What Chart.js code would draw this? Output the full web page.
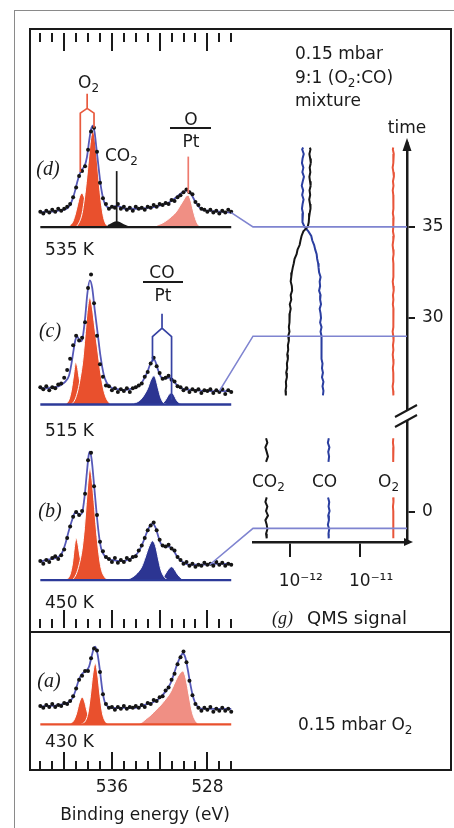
<!DOCTYPE html>
<html>
<head>
<meta charset="utf-8">
<script src="https://cdn.jsdelivr.net/npm/chart.js@4.4.0/dist/chart.umd.min.js"></script>
<style>
  html, body { margin: 0; padding: 0; background: #fff; }
  #fig { position: relative; width: 454px; height: 828px; overflow: hidden; }
  canvas { position: absolute; }
  .box { position: absolute; box-sizing: border-box; border: 2.5px solid #1a1a1a; }
  .outer { position: absolute; left: 14px; top: 10px; width: 470px; height: 840px; border: 1.5px solid #8a8a8a; }
  .t { position: absolute; line-height: 1; white-space: nowrap; font-family: "DejaVu Sans", sans-serif;
       font-size: 17px; color: #1a1a1a; transform: translateY(-50%); }
  .c { transform: translate(-50%, -50%); }
  .i { font-family: "Liberation Serif", serif; font-style: italic; font-size: 20px; }
  sub { font-size: 12px; vertical-align: -4px; line-height: 0; }
  .bar { position: absolute; height: 1.6px; background: #1a1a1a; }
</style>
</head>
<body>
<div id="fig">
  <div class="outer"></div>

  <canvas id="cD" width="210" height="233" style="left:30px;top:29px"></canvas>
  <canvas id="cC" width="210" height="178" style="left:30px;top:262px"></canvas>
  <canvas id="cB" width="210" height="192" style="left:30px;top:440px"></canvas>
  <canvas id="cA" width="210" height="196" style="left:30px;top:632px"></canvas>
  <canvas id="cQ" width="255" height="603" style="left:196px;top:29px"></canvas>

  <div class="box" style="left:28.75px;top:27.75px;width:423.5px;height:605.5px"></div>
  <div class="box" style="left:28.75px;top:630.75px;width:423.5px;height:140.5px"></div>

  <!-- panel labels -->
  <div class="t c i" style="left:48px;top:168px">(d)</div>
  <div class="t c i" style="left:50px;top:330px">(c)</div>
  <div class="t c i" style="left:50px;top:510px">(b)</div>
  <div class="t c i" style="left:49px;top:680px">(a)</div>
  <div class="t" style="left:45px;top:249px">535 K</div>
  <div class="t" style="left:45px;top:430px">515 K</div>
  <div class="t" style="left:45px;top:602px">450 K</div>
  <div class="t" style="left:45px;top:741px">430 K</div>

  <!-- peak labels -->
  <div class="t" style="left:78px;top:82px">O<sub>2</sub></div>
  <div class="t" style="left:105px;top:155px">CO<sub>2</sub></div>
  <div class="t c" style="left:191px;top:119px">O</div>
  <div class="bar" style="left:170px;top:127px;width:41px"></div>
  <div class="t c" style="left:191px;top:141px">Pt</div>
  <div class="t c" style="left:162px;top:272px">CO</div>
  <div class="bar" style="left:143px;top:281px;width:40px"></div>
  <div class="t c" style="left:163px;top:295px">Pt</div>

  <!-- right side texts -->
  <div class="t" style="left:295px;top:53px">0.15 mbar</div>
  <div class="t" style="left:295px;top:77px">9:1 (O<sub>2</sub>:CO)</div>
  <div class="t" style="left:295px;top:100px">mixture</div>
  <div class="t c" style="left:407px;top:127px">time</div>
  <div class="t" style="left:252px;top:481px">CO<sub>2</sub></div>
  <div class="t" style="left:312px;top:481px">CO</div>
  <div class="t" style="left:378px;top:481px">O<sub>2</sub></div>
  <div class="t i" style="left:272px;top:618px;font-size:18px">(g)</div>
  <div class="t" style="left:307px;top:618px;font-size:18px">QMS signal</div>
  <div class="t" style="left:298px;top:724px">0.15 mbar O<sub>2</sub></div>
  <div class="t c" style="left:145px;top:814px">Binding energy (eV)</div>
</div>

<script>
// ---- XPS: binding energy grid for the measured points (eV) ----
const energies = [542, 541.75, 541.5, 541.25, 541, 540.75, 540.5, 540.25, 540, 539.75, 539.5, 539.25,
  539, 538.75, 538.5, 538.25, 538, 537.75, 537.5, 537.25, 537, 536.75, 536.5, 536.25, 536, 535.75,
  535.5, 535.25, 535, 534.75, 534.5, 534.25, 534, 533.75, 533.5, 533.25, 533, 532.75, 532.5, 532.25,
  532, 531.75, 531.5, 531.25, 531, 530.75, 530.5, 530.25, 530, 529.75, 529.5, 529.25, 529, 528.75,
  528.5, 528.25, 528, 527.75, 527.5, 527.25, 527, 526.75, 526.5, 526.25, 526];
const tickEnergies = [542, 541, 540, 539, 538, 537, 536, 535, 534, 533, 532, 531, 530, 529, 528, 527, 526];
const labelEnergies = [536, 528];

// measured intensities (arb. units), one per energy
const dotsD = [16,14,17,15,18,16,19,17,19,21, 24,31,41,53,58,63,80,99,103,78, 46,30,24,19,21,20,24,19,21,18,
  20,17,21,19,20,18,21,20,23,21, 24,23,25,24,28,27,31,33,36,39, 36,34,26,23,19,18,16,18,15,17, 14,17,15,18,16];
const dotsC = [18,16,19,15,18,17,21,22,28,36, 48,62,72,67,70,86,122,136,106,72, 42,29,20,19,15,17,13,16,14,17,
  13,17,18,20,22,29,34,43,49,40, 33,27,28,30,26,24,19,18,15,17, 13,16,14,16,12,15,14,16,12,15, 13,16,11,15,13];
const dotsB = [20,17,21,19,23,25,22,26,32,44, 56,66,71,68,72,90,125,133,98,68, 40,30,24,22,19,23,18,21,19,23,
  21,24,25,31,36,44,52,57,60,52, 42,36,35,37,33,31,24,21,17,19, 15,17,14,16,15,18,16,17,15,19, 16,18,15,17,16];
const dotsA = [19,17,20,18,21,18,20,19,22,21, 24,29,37,46,50,55,55,68,78,76, 54,31,21,17,18,15,18,16,19,16,
  18,17,19,17,20,18,22,21,25,24, 28,29,35,38,46,52,62,69,75,64, 45,30,21,17,14,17,15,18,13,16, 14,17,14,16,13];

// fit envelopes [eV, intensity]
const envD = [[542,15],[541.5,16],[541,16],[540.5,17],[540,18],[539.7,20],[539.5,23],[539.3,29],[539.1,37],[538.9,47],
  [538.7,55],[538.5,60],[538.3,63],[538.1,72],[537.9,90],[537.75,101],[537.6,105],[537.45,98],[537.3,82],[537.1,60],
  [536.9,40],[536.7,28],[536.5,22],[536.2,20],[535.9,21],[535.6,22],[535.3,21],[534.9,19],[534.4,19],[533.8,19],
  [533,20],[532.4,21],[531.8,23],[531.3,25],[530.9,28],[530.5,32],[530.2,35],[529.9,37],[529.7,38],[529.5,37],
  [529.3,33],[529,26],[528.7,21],[528.4,18],[528,17],[527,16],[526,15]];
const envC = [[542,17],[541.5,17],[541,18],[540.5,19],[540.2,21],[539.9,24],[539.6,30],[539.4,42],[539.2,58],[539.05,68],
  [538.9,71],[538.75,68],[538.6,66],[538.45,70],[538.25,90],[538.05,117],[537.85,130],[537.65,122],[537.45,100],[537.2,75],
  [536.95,50],[536.7,32],[536.45,23],[536.1,18],[535.5,16],[535,15],[534.5,16],[534,18],[533.6,21],[533.3,27],
  [533,35],[532.8,42],[532.6,46],[532.45,47],[532.3,43],[532.1,35],[531.9,29],[531.6,27],[531.3,28],[531.1,28],
  [530.9,26],[530.6,21],[530.3,18],[530,16],[529,15],[528,14],[527,14],[526,14]];
const envB = [[542,19],[541.5,21],[541,22],[540.5,24],[540.2,28],[539.9,38],[539.6,52],[539.3,64],[539.1,70],[538.9,70],
  [538.7,68],[538.5,70],[538.3,86],[538.1,112],[537.95,130],[537.85,134],[537.7,126],[537.5,100],[537.3,72],[537.1,48],
  [536.9,33],[536.6,25],[536.3,22],[536,21],[535.5,20],[535,20],[534.5,22],[534,26],[533.7,31],[533.4,39],
  [533.1,49],[532.85,56],[532.6,59],[532.35,55],[532.1,45],[531.9,38],[531.6,35],[531.3,35],[531.05,34],[530.8,30],
  [530.5,24],[530.2,20],[529.8,17],[529.3,16],[528.5,16],[527.5,17],[526,17]];
const envA = [[542,18],[541.5,19],[541,19],[540.5,20],[540,21],[539.6,23],[539.3,27],[539.1,33],[538.9,41],[538.7,48],
  [538.5,52],[538.3,54],[538.1,56],[537.9,60],[537.7,70],[537.5,79],[537.4,80],[537.2,72],[537,55],[536.8,35],
  [536.6,23],[536.3,18],[536,17],[535,17],[534,17],[533.5,19],[533,21],[532.5,23],[532,27],[531.5,34],
  [531.1,42],[530.8,52],[530.5,63],[530.2,71],[530.05,73],[529.85,69],[529.65,57],[529.45,43],[529.25,31],[529.05,23],
  [528.8,18],[528.4,16],[527.5,16],[526,16]];

// fitted components [eV, intensity]
const dO2a = [[539.7,0],[539.3,5],[539.1,12],[538.9,22],[538.7,32],[538.5,35],[538.3,30],[538.1,20],[537.9,10],[537.7,4],[537.3,0]];
const dO2b = [[539,0],[538.7,6],[538.5,14],[538.3,30],[538.1,52],[537.9,78],[537.75,94],[537.6,100],[537.45,94],[537.3,78],[537.1,50],[536.9,26],[536.7,10],[536.5,3],[536.2,0]];
const dCO2 = [[537.2,0],[536.6,1],[536.2,3],[535.9,5],[535.6,6],[535.3,5],[535,3],[534.6,1],[534,0]];
const dOPt = [[532.6,0],[532.2,2],[531.8,4],[531.4,7],[531,11],[530.6,16],[530.3,22],[530,28],[529.8,32],[529.6,33],[529.4,28],[529.2,18],[529,9],[528.8,3],[528.5,0]];

const cO2a = [[539.9,0],[539.6,5],[539.4,15],[539.2,32],[539.05,44],[538.9,40],[538.75,28],[538.6,17],[538.4,7],[538.2,2],[537.9,0]];
const cO2b = [[539.4,0],[539.1,5],[538.85,15],[538.65,28],[538.45,45],[538.25,72],[538.05,100],[537.85,112],[537.65,102],[537.45,82],[537.2,58],[536.95,34],[536.7,16],[536.45,6],[536.1,0]];
const cCOa = [[534.5,0],[534,2],[533.6,5],[533.3,10],[533,17],[532.8,24],[532.6,29],[532.45,30],[532.3,26],[532.1,16],[531.9,7],[531.7,2],[531.4,0]];
const cCOb = [[531.9,0],[531.6,3],[531.4,7],[531.2,11],[531,12],[530.8,10],[530.6,5],[530.4,2],[530.1,0]];

const bO2a = [[539.8,0],[539.5,6],[539.3,18],[539.15,34],[539,44],[538.85,38],[538.7,26],[538.5,14],[538.3,5],[538,0]];
const bO2b = [[539.3,0],[539,6],[538.75,16],[538.5,32],[538.3,55],[538.1,88],[537.95,110],[537.85,117],[537.7,108],[537.5,82],[537.3,52],[537.1,28],[536.9,12],[536.6,3],[536.3,0]];
const bCOa = [[534.8,0],[534.3,3],[533.9,7],[533.5,14],[533.2,24],[532.9,35],[532.6,41],[532.35,36],[532.1,22],[531.9,11],[531.6,3],[531.3,0]];
const bCOb = [[532,0],[531.7,3],[531.4,9],[531.15,13],[531,14],[530.8,12],[530.5,6],[530.2,2],[529.8,0]];

const aO2a = [[539.6,0],[539.2,4],[538.95,12],[538.75,22],[538.5,28],[538.3,24],[538.1,14],[537.9,6],[537.6,1],[537.3,0]];
const aO2b = [[538.6,0],[538.2,4],[538,12],[537.8,30],[537.6,52],[537.4,63],[537.2,52],[537,30],[536.8,12],[536.6,4],[536.3,0]];
const aOPt = [[534,0],[533.5,2],[533.1,6],[532.7,10],[532.3,15],[531.9,20],[531.5,26],[531.1,33],[530.8,41],[530.5,49],[530.2,54],[530.05,55],[529.85,50],[529.65,38],[529.45,24],[529.25,12],[529.05,5],[528.8,1],[528.5,0]];

const baseline = [[542,0],[526,0]];

// ---- QMS traces: time (min) and signal (units of 1e-12 A) ----
const qmsUnit = 1e-12;
const qmsTicks = [1e-12, 1e-11];
const qmsTickText = ['10\u207B\u00B9\u00B2', '10\u207B\u00B9\u00B9'];
const timeTicksUp = [30, 35];
const timeTicksLow = [0];

const tUpper = [39.35, 39.25, 39, 38.75, 38.5, 38.25, 38, 37.75, 37.5, 37.25, 37, 36.75, 36.5, 36.25, 36, 35.75,
  35.5, 35.25, 35, 34.75, 34.5, 34.25, 34, 33.75, 33.5, 33.25, 33, 32.75, 32.5, 32.25, 32, 31.75, 31.5, 31.25,
  31, 30.75, 30.5, 30.25, 30, 29.75, 29.5, 29.25, 29, 28.75, 28.5, 28.25, 28, 27.75, 27.5, 27.25, 27, 26.75,
  26.5, 26.25, 26, 25.75];
const co2Upper = [1.93,1.97,1.90,1.95,1.99,1.92,1.96,1.90,1.94,1.98,1.91,1.95,1.89,1.94,1.97,1.92,1.88,1.86,1.80,
  1.56,1.47,1.42,1.38,1.29,1.25,1.17,1.14,1.10,1.07,1.05,1.03,1.07,1.08,1.03,1.05,1.00,1.03,1.00,0.98,
  1.00,0.97,0.99,0.95,0.97,0.94,0.95,0.92,0.94,0.91,0.92,0.89,0.91,0.88,0.89,0.87,0.88];
const coUpper = [1.55,1.50,1.58,1.52,1.49,1.56,1.51,1.59,1.53,1.48,1.55,1.50,1.57,1.52,1.49,1.54,1.50,1.53,1.62,
  1.84,2.02,2.09,2.22,2.30,2.41,2.45,2.53,2.57,2.61,2.74,2.66,2.70,2.61,2.74,2.70,2.78,2.66,2.74,2.78,
  2.70,2.83,2.74,2.83,2.78,2.87,2.78,2.87,2.83,2.92,2.87,2.96,2.87,3.01,2.92,3.01,2.96];
const o2Upper = [29.6,29.2,30.1,29.4,29.9,29.0,29.7,30.2,29.3,29.8, 29.1,29.6,30.0,29.4,29.8,29.2,29.9,29.5,29.7,29.3,
  30.1,29.6,29.0,29.5,29.9,29.3,29.7,30.0,29.4,29.8, 29.1,29.6,30.0,29.3,29.7,29.2,29.8,29.5,30.1,29.4,
  29.7,29.0,29.6,29.9,29.3,29.7,29.1,29.5,29.8,29.2, 29.6,29.9,29.4,29.0,29.5,29.7];

const tLowA = [4.05, 3.8, 3.55, 3.3, 3.05, 2.75];
const tLowB = [0.8, 0.55, 0.3, 0.05, -0.2, -0.45, -0.7, -0.95, -1.2, -1.45];
const co2LowA = [0.46,0.48,0.45,0.47,0.49,0.46];
const co2LowB = [0.47,0.45,0.48,0.46,0.49,0.45,0.47,0.48,0.46,0.47];
const coLowA = [3.59,3.48,3.66,3.52,3.62,3.55];
const coLowB = [3.50,3.64,3.56,3.68,3.52,3.60,3.48,3.63,3.55,3.58];
const o2LowA = [29.6,29.3,29.8,29.5,29.7,29.4];
const o2LowB = [29.5,29.8,29.3,29.6,29.9,29.4,29.7,29.5,29.8,29.6];

// spectra (d),(c),(b) are linked to these times; start point on each spectrum [eV, intensity]
const linkTimes = [35, 29, -0.9];
const linkStarts = [[526, 15], [527, 14], [527.8, 16]];
const linkAxes = ['tUp', 'tUp', 'tLow'];

// ---- styles ----
const ink = '#1a1a1a';
const o2Red = '#e9502d';
const oPtPink = '#f08f84';
const coBlue = '#2c3592';
const envColor = '#5659b8';
const linkColor = '#7f84d0';
const eMin = 525.6, eMax = 542.53;
const qMin = 3.37e-13, qMax = 4.64e-11;

Chart.defaults.font.family = '"DejaVu Sans", sans-serif';
Chart.defaults.color = ink;

const pts = a => a.map(([x, y]) => ({x, y}));

// tick marks drawn inward from the frame edge
const frameTicks = {
  id: 'frameTicks',
  afterDraw(chart, args, opts) {
    const {ctx, chartArea: a, scales: {x}} = chart;
    ctx.save();
    ctx.strokeStyle = ink; ctx.lineWidth = 2;
    (opts.edges || []).forEach(edge => {
      const y0 = edge === 'top' ? a.top : a.bottom;
      const dir = edge === 'top' ? 1 : -1;
      x.ticks.forEach(t => {
        if (!Number.isInteger(t.value)) return;
        const len = t.value % 4 === 0 ? 18 : 9;
        const px = Math.round(x.getPixelForValue(t.value));
        ctx.beginPath(); ctx.moveTo(px, y0); ctx.lineTo(px, y0 + dir * len); ctx.stroke();
      });
    });
    ctx.restore();
  }
};

// label pointers for peaks
const peakMarks = {
  id: 'peakMarks',
  afterDatasetsDraw(chart, args, opts) {
    const {ctx, scales: {x, y}} = chart;
    ctx.save();
    ctx.lineWidth = 1.7;
    (opts.sticks || []).forEach(s => {
      const px = x.getPixelForValue(s.e);
      ctx.strokeStyle = s.color;
      ctx.beginPath(); ctx.moveTo(px, y.getPixelForValue(s.from)); ctx.lineTo(px, y.getPixelForValue(s.to)); ctx.stroke();
    });
    (opts.forks || []).forEach(f => {
      const xl = x.getPixelForValue(f.e[0]), xr = x.getPixelForValue(f.e[1]), xm = (xl + xr) / 2;
      const yj = y.getPixelForValue(f.join), ys = y.getPixelForValue(f.split);
      ctx.strokeStyle = f.color;
      ctx.beginPath();
      ctx.moveTo(xm, y.getPixelForValue(f.top)); ctx.lineTo(xm, yj);
      ctx.lineTo(xl, ys); ctx.lineTo(xl, y.getPixelForValue(f.ends[0]));
      ctx.moveTo(xm, yj); ctx.lineTo(xr, ys); ctx.lineTo(xr, y.getPixelForValue(f.ends[1]));
      ctx.stroke();
    });
    ctx.restore();
  }
};

function xpsChart(id, cfg) {
  const datasets = [
    { data: cfg.dots.map((v, i) => ({x: energies[i], y: v})), showLine: false, pointRadius: 2,
      pointBackgroundColor: '#141414', pointBorderWidth: 0, order: 1 },
    { data: pts(cfg.env), borderColor: envColor, borderWidth: 1.8, pointRadius: 0, cubicInterpolationMode: 'monotone', order: 2 },
    { data: pts(baseline), borderColor: cfg.base, borderWidth: 2.4, pointRadius: 0, order: 3 }
  ];
  cfg.comps.forEach((c, k) => datasets.push({
    data: pts(c.pts), fill: 'origin', backgroundColor: c.color, borderColor: '#fff',
    borderWidth: c.plain ? 0 : 1, pointRadius: 0, cubicInterpolationMode: 'monotone', order: 4 + k
  }));
  const x = {
    type: 'linear', reverse: true, min: eMin, max: eMax, display: !!cfg.labels,
    ticks: {autoSkip: false},
    afterBuildTicks: s => { s.ticks = tickEnergies.map(v => ({value: v})); }
  };
  if (cfg.labels) {
    Object.assign(x, {
      grid: {display: false, drawTicks: false}, border: {display: false},
      ticks: {autoSkip: false, maxRotation: 0, padding: 7, color: ink, font: {size: 17},
        callback: v => labelEnergies.includes(v) ? String(v) : ''},
      afterFit: s => { s.height = 58; }
    });
  }
  return new Chart(document.getElementById(id), {
    type: 'line',
    data: {datasets},
    options: {
      responsive: false, animation: false, events: [], devicePixelRatio: 1,
      layout: {padding: 0},
      plugins: {legend: {display: false}, tooltip: {enabled: false},
        frameTicks: {edges: cfg.edges || []}, peakMarks: cfg.marks || {}},
      scales: {x, y: {type: 'linear', min: cfg.yRange[0], max: cfg.yRange[1], display: false}}
    },
    plugins: [frameTicks, peakMarks]
  });
}

const chartD = xpsChart('cD', {
  dots: dotsD, env: envD, base: ink, yRange: [-32, 201], edges: ['top'],
  comps: [{pts: dO2b, color: o2Red}, {pts: dO2a, color: o2Red}, {pts: dCO2, color: ink, plain: true}, {pts: dOPt, color: oPtPink}],
  marks: {
    forks: [{color: '#e85a3e', e: [538.65, 537.5], top: 138, join: 123, split: 118, ends: [57, 103]}],
    sticks: [{color: ink, e: 535.6, from: 58, to: 4}, {color: '#ee7a6e', e: 529.6, from: 73, to: 35}]
  }
});
const chartC = xpsChart('cC', {
  dots: dotsC, env: envC, base: '#2c3a99', yRange: [-33, 145],
  comps: [{pts: cO2b, color: o2Red}, {pts: cO2a, color: o2Red}, {pts: cCOa, color: coBlue}, {pts: cCOb, color: coBlue}],
  marks: {forks: [{color: '#3642a3', e: [532.6, 531.0], top: 95, join: 80, split: 71, ends: [45, 5]}]}
});
const chartB = xpsChart('cB', {
  dots: dotsB, env: envB, base: '#2c3a99', yRange: [-50, 142], edges: ['bottom'],
  comps: [{pts: bO2b, color: o2Red}, {pts: bO2a, color: o2Red}, {pts: bCOa, color: coBlue}, {pts: bCOb, color: coBlue}]
});
const chartA = xpsChart('cA', {
  dots: dotsA, env: envA, base: o2Red, yRange: [-47, 91], edges: ['bottom'], labels: true,
  comps: [{pts: aO2b, color: o2Red}, {pts: aO2a, color: o2Red}, {pts: aOPt, color: oPtPink}]
});
const specCharts = [chartD, chartC, chartB];

// ---- QMS chart ----
const links = {
  id: 'links',
  afterDatasetsDraw(chart) {
    const {ctx, chartArea: a} = chart;
    const ox = chart.canvas.offsetLeft, oy = chart.canvas.offsetTop;
    ctx.save();
    ctx.strokeStyle = linkColor; ctx.lineWidth = 1.6;
    linkTimes.forEach((t, i) => {
      const src = specCharts[i];
      const sx = src.scales.x.getPixelForValue(linkStarts[i][0]) + src.canvas.offsetLeft - ox;
      const sy = src.scales.y.getPixelForValue(linkStarts[i][1]) + src.canvas.offsetTop - oy;
      const ty = chart.scales[linkAxes[i]].getPixelForValue(t);
      ctx.beginPath(); ctx.moveTo(sx, sy); ctx.lineTo(a.left, ty); ctx.lineTo(a.right, ty); ctx.stroke();
    });
    ctx.restore();
  }
};

const qmsDeco = {
  id: 'qmsDeco',
  afterDraw(chart) {
    const {ctx, chartArea: a, scales} = chart;
    const ax = a.right;
    ctx.save();
    ctx.fillStyle = ink;
    ctx.beginPath(); ctx.moveTo(ax, a.top - 5); ctx.lineTo(ax - 4.5, a.top + 8); ctx.lineTo(ax + 4.5, a.top + 8); ctx.closePath(); ctx.fill();
    ctx.beginPath(); ctx.moveTo(ax + 6, a.bottom); ctx.lineTo(ax - 3, a.bottom - 4); ctx.lineTo(ax - 3, a.bottom + 4); ctx.closePath(); ctx.fill();
    const yb = scales.tUp.bottom + 6;
    ctx.fillStyle = '#fff';
    ctx.beginPath(); ctx.moveTo(ax - 12, yb + 1); ctx.lineTo(ax + 10, yb - 11); ctx.lineTo(ax + 10, yb - 1); ctx.lineTo(ax - 12, yb + 11); ctx.closePath(); ctx.fill();
    ctx.strokeStyle = ink; ctx.lineWidth = 2;
    ctx.beginPath();
    ctx.moveTo(ax - 12, yb + 1); ctx.lineTo(ax + 10, yb - 11);
    ctx.moveTo(ax - 12, yb + 11); ctx.lineTo(ax + 10, yb - 1);
    ctx.stroke();
    ctx.restore();
  }
};

const trace = (times, vals, color, axis) => ({
  data: times.map((t, i) => ({x: vals[i] * qmsUnit, y: t})),
  borderColor: color, borderWidth: 2, pointRadius: 0, xAxisID: 'x', yAxisID: axis
});

const timeAxis = (ticks, weight, min, max) => ({
  type: 'linear', position: 'right', stack: 'time', stackWeight: weight, min, max,
  afterBuildTicks: s => { s.ticks = ticks.map(v => ({value: v})); },
  afterFit: s => { s.width = 44; },
  border: {display: true, color: ink, width: 2.5},
  grid: {drawOnChartArea: false, drawTicks: true, tickLength: 8, color: ink, lineWidth: 2},
  ticks: {autoSkip: false, padding: 7, color: ink, font: {size: 17}}
});

new Chart(document.getElementById('cQ'), {
  type: 'line',
  data: {
    datasets: [
      trace(tUpper, co2Upper, '#151515', 'tUp'),
      trace(tUpper, coUpper, '#2a3ea0', 'tUp'),
      trace(tUpper, o2Upper, '#e8553a', 'tUp'),
      trace(tLowA, co2LowA, '#151515', 'tLow'),
      trace(tLowB, co2LowB, '#151515', 'tLow'),
      trace(tLowA, coLowA, '#2a3ea0', 'tLow'),
      trace(tLowB, coLowB, '#2a3ea0', 'tLow'),
      trace(tLowA, o2LowA, '#e8553a', 'tLow'),
      trace(tLowB, o2LowB, '#e8553a', 'tLow')
    ]
  },
  options: {
    responsive: false, animation: false, events: [], devicePixelRatio: 1,
    layout: {padding: {left: 57, top: 114, right: 0, bottom: 0}},
    plugins: {legend: {display: false}, tooltip: {enabled: false}},
    scales: {
      x: {
        type: 'logarithmic', position: 'bottom', min: qMin, max: qMax,
        afterBuildTicks: s => { s.ticks = qmsTicks.map(v => ({value: v})); },
        afterFit: s => { s.height = 90; },
        border: {display: true, color: ink, width: 2.5},
        grid: {drawOnChartArea: false, drawTicks: true, tickLength: 15, color: ink, lineWidth: 2},
        ticks: {autoSkip: false, maxRotation: 0, padding: 14, labelOffset: 11, color: ink, font: {size: 17},
          callback: v => qmsTickText[qmsTicks.indexOf(v)] || ''}
      },
      tUp: timeAxis(timeTicksUp, 267, 24.95, 39.6),
      tLow: timeAxis(timeTicksLow, 132, -1.65, 5.6)
    }
  },
  plugins: [links, qmsDeco]
});
</script>
</body>
</html>
